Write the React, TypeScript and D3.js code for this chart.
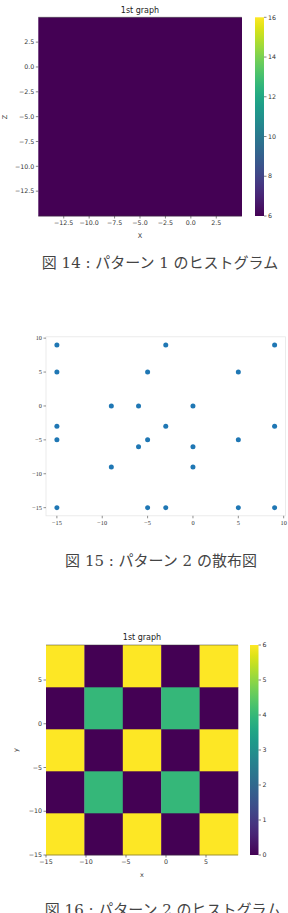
import React from "react";
import * as d3 from "d3";

// ---------- data ----------
const captions = [
  "図 14 : パターン 1 のヒストグラム",
  "図 15 : パターン 2 の散布図",
  "図 16 : パターン 2 のヒストグラム",
];
const titles = ["1st graph", "1st graph"];

// panel 1 : 2D histogram (all one value)
const p1XEdges = [-15, 5];
const p1YEdges = [-15, 5];
const p1Counts = [[6]]; // rows from bottom
const p1XTicks = [-12.5, -10, -7.5, -5, -2.5, 0, 2.5];
const p1YTicks = [2.5, 0, -2.5, -5, -7.5, -10, -12.5];
const p1CbTicks = [6, 8, 10, 12, 14, 16];
const p1CbDomain = [6, 16];

// panel 2 : scatter
const p2X = [-15, -15, -15, -15, -15, -9, -9, -6, -6, -5, -5, -5, -3, -3, -3, 0, 0, 0, 5, 5, 5, 9, 9, 9];
const p2Y = [9, 5, -3, -5, -15, 0, -9, 0, -6, 5, -5, -15, 9, -3, -15, 0, -6, -9, 5, -5, -15, 9, -3, -15];
const p2XTicks = [-15, -10, -5, 0, 5, 10];
const p2YTicks = [10, 5, 0, -5, -10, -15];

// panel 3 : 2D histogram checkerboard
const p3XEdges = [-15, -10.2, -5.4, -0.6, 4.2, 9];
const p3YEdges = [-15, -10.2, -5.4, -0.6, 4.2, 9];
const p3Counts = [
  [6, 0, 6, 0, 6],
  [0, 4, 0, 4, 0],
  [6, 0, 6, 0, 6],
  [0, 4, 0, 4, 0],
  [6, 0, 6, 0, 6],
]; // rows from bottom
const p3XTicks = [-15, -10, -5, 0, 5];
const p3YTicks = [5, 0, -5, -10, -15];
const p3CbTicks = [0, 1, 2, 3, 4, 5, 6];
const p3CbDomain = [0, 6];

const MPL = "'DejaVu Sans', sans-serif";
const SERIF = "'Liberation Serif', 'DejaVu Serif', serif";
const CAP = "'DejaVu Serif', 'Noto Sans CJK JP', serif";
const fmtNum = (v: number, dec: number) => v.toFixed(dec).replace("-", "\u2212");

type HeatProps = {
  box: [number, number, number, number]; // left, top, right, bottom
  xDomain: [number, number];
  yDomain: [number, number];
  xEdges: number[];
  yEdges: number[];
  counts: number[][];
  xTicks: number[];
  yTicks: number[];
  dec: number;
  cb: { x: number; w: number; domain: number[]; ticks: number[] };
  title: string;
  titleY: number;
  xlabel: string;
  xlabelY: number;
  ylabel: string;
  ylabelX: number;
  ylabelY: number;
};

function Heatmap(p: HeatProps) {
  const [l, t, r, b] = p.box;
  const x = d3.scaleLinear().domain(p.xDomain).range([l, r]);
  const y = d3.scaleLinear().domain(p.yDomain).range([b, t]);
  const c = d3.scaleSequential(d3.interpolateViridis).domain(p.cb.domain as [number, number]);
  const cy = d3.scaleLinear().domain(p.cb.domain).range([b, t]);
  const stops = d3.range(0, 1.0001, 0.05);
  const gid = "grad" + Math.round(t);
  const cells: JSX.Element[] = [];
  p.counts.forEach((row, ri) =>
    row.forEach((v, ci) => {
      const x0 = x(p.xEdges[ci]);
      const x1 = x(p.xEdges[ci + 1]);
      const y0 = y(p.yEdges[ri + 1]);
      const y1 = y(p.yEdges[ri]);
      cells.push(
        <rect key={ri + "-" + ci} x={x0} y={y0} width={x1 - x0 + 0.3} height={y1 - y0 + 0.3} fill={c(v)} />
      );
    })
  );
  return (
    <g fontFamily={MPL}>
      <defs>
        <linearGradient id={gid} x1="0" y1="1" x2="0" y2="0">
          {stops.map((s) => (
            <stop key={s} offset={s} stopColor={d3.interpolateViridis(s)} />
          ))}
        </linearGradient>
      </defs>
      <text x={(l + r) / 2} y={p.titleY} fontSize={8} textAnchor="middle" fill="#222">
        {p.title}
      </text>
      {cells}
      <line x1={l} x2={r} y1={t} y2={t} stroke="#333" strokeOpacity={0.6} strokeWidth={0.8} />
      <line x1={l} x2={r} y1={b} y2={b} stroke="#333" strokeOpacity={0.6} strokeWidth={0.8} />
      {p.xTicks.map((v) => (
        <g key={"xt" + v}>
          <line x1={x(v)} x2={x(v)} y1={b} y2={b + 2.5} stroke="#333" strokeWidth={0.6} />
          <text x={x(v)} y={b + 9} fontSize={6.3} textAnchor="middle" fill="#333">
            {fmtNum(v, p.dec)}
          </text>
        </g>
      ))}
      {p.yTicks.map((v) => (
        <g key={"yt" + v}>
          <line x1={l - 2.5} x2={l} y1={y(v)} y2={y(v)} stroke="#333" strokeWidth={0.6} />
          <text x={l - 4} y={y(v) + 2.2} fontSize={6.3} textAnchor="end" fill="#333">
            {fmtNum(v, p.dec)}
          </text>
        </g>
      ))}
      <text x={(l + r) / 2} y={p.xlabelY} fontSize={6.5} textAnchor="middle" fill="#333">
        {p.xlabel}
      </text>
      <text
        x={p.ylabelX}
        y={p.ylabelY}
        fontSize={6.5}
        textAnchor="middle"
        fill="#333"
        transform={`rotate(-90 ${p.ylabelX} ${p.ylabelY})`}
      >
        {p.ylabel}
      </text>
      <rect x={p.cb.x} y={t} width={p.cb.w} height={b - t} fill={`url(#${gid})`} />
      {p.cb.ticks.map((v) => (
        <g key={"cb" + v}>
          <line x1={p.cb.x + p.cb.w} x2={p.cb.x + p.cb.w + 2.5} y1={cy(v)} y2={cy(v)} stroke="#333" strokeWidth={0.6} />
          <text x={p.cb.x + p.cb.w + 4} y={cy(v) + 2.2} fontSize={6.3} fill="#333">
            {fmtNum(v, 0)}
          </text>
        </g>
      ))}
    </g>
  );
}

function Scatter() {
  const l = 46, t = 336.8, r = 285.5, b = 515.8;
  const x = d3.scaleLinear().domain([-16.2, 10.2]).range([l, r]);
  const y = d3.scaleLinear().domain([-16.2, 10.2]).range([b, t]);
  return (
    <g fontFamily={SERIF}>
      <rect x={l} y={t} width={r - l} height={b - t} fill="none" stroke="#e6e6e6" strokeWidth={0.8} />
      {p2XTicks.map((v) => (
        <g key={"x" + v}>
          <line x1={x(v)} x2={x(v)} y1={b} y2={b + 2.5} stroke="#444" strokeWidth={0.6} />
          <text x={x(v)} y={b + 9} fontSize={6.3} textAnchor="middle" fill="#333">
            {fmtNum(v, 0)}
          </text>
        </g>
      ))}
      {p2YTicks.map((v) => (
        <g key={"y" + v}>
          <line x1={l - 2.5} x2={l} y1={y(v)} y2={y(v)} stroke="#444" strokeWidth={0.6} />
          <text x={l - 4} y={y(v) + 2.2} fontSize={6.3} textAnchor="end" fill="#333">
            {fmtNum(v, 0)}
          </text>
        </g>
      ))}
      {p2X.map((v, i) => (
        <circle key={i} cx={x(v)} cy={y(p2Y[i])} r={2.5} fill="#1f77b4" />
      ))}
    </g>
  );
}

export default function App() {
  return (
    <svg
      width={288}
      height={913}
      style={{ position: "absolute", left: 0, top: 0, background: "#fff" }}
    >
      <rect width={288} height={913} fill="#fff" />
      <Heatmap
        box={[38.3, 17.3, 241.7, 216]}
        xDomain={[-15, 5]}
        yDomain={[-15, 5]}
        xEdges={p1XEdges}
        yEdges={p1YEdges}
        counts={p1Counts}
        xTicks={p1XTicks}
        yTicks={p1YTicks}
        dec={1}
        cb={{ x: 255, w: 9, domain: p1CbDomain, ticks: p1CbTicks }}
        title={titles[0]}
        titleY={13}
        xlabel="X"
        xlabelY={238}
        ylabel="Z"
        ylabelX={7}
        ylabelY={117}
      />
      <text x={160} y={268} fontSize={15} fontFamily={CAP} textAnchor="middle" fill="#444">
        {captions[0]}
      </text>
      <Scatter />
      <text x={161} y={566} fontSize={15} fontFamily={CAP} textAnchor="middle" fill="#444">
        {captions[1]}
      </text>
      <Heatmap
        box={[46, 645, 238, 855]}
        xDomain={[-15, 9]}
        yDomain={[-15, 9]}
        xEdges={p3XEdges}
        yEdges={p3YEdges}
        counts={p3Counts}
        xTicks={p3XTicks}
        yTicks={p3YTicks}
        dec={0}
        cb={{ x: 250, w: 8.5, domain: p3CbDomain, ticks: p3CbTicks }}
        title={titles[1]}
        titleY={640}
        xlabel="x"
        xlabelY={877}
        ylabel="y"
        ylabelX={18}
        ylabelY={750}
      />
      <text x={163} y={915} fontSize={15} fontFamily={CAP} textAnchor="middle" fill="#444">
        {captions[2]}
      </text>
    </svg>
  );
}
